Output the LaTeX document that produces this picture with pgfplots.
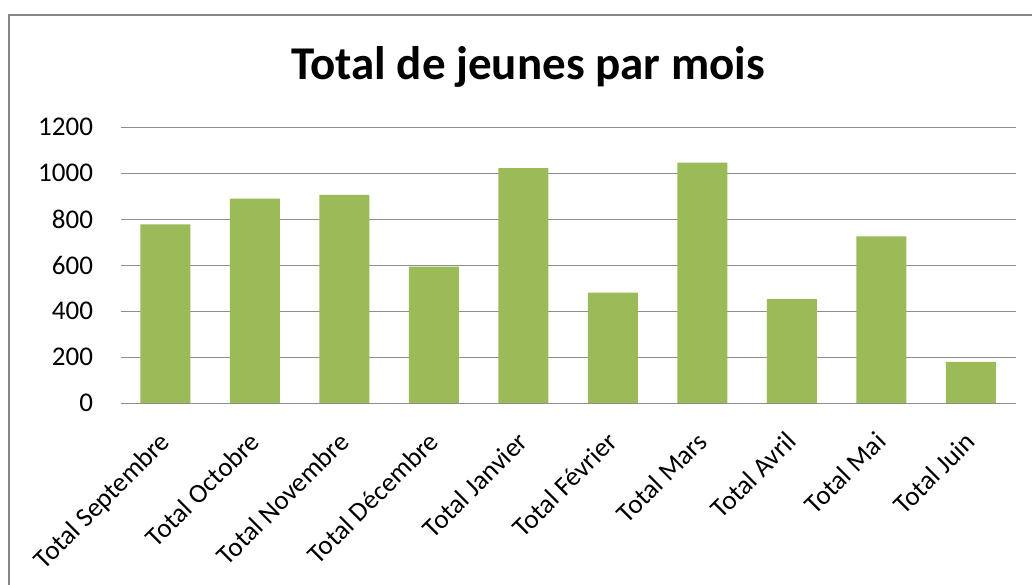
\documentclass[border=0pt]{standalone}
\usepackage{pgfplots}
\pgfplotsset{compat=1.18}
\usepackage{fontspec}
\setmainfont{Carlito}
\definecolor{bargreen}{HTML}{9BBB59}
\definecolor{gridgray}{HTML}{8E8E8E}
\definecolor{framegray}{HTML}{868686}
\begin{document}
\begin{tikzpicture}
\useasboundingbox (0pt,0pt) rectangle (1032pt,584pt);
\fill[white] (0pt,0pt) rectangle (1032pt,584pt);
\draw[framegray, line width=2pt] (9pt,569pt) rectangle (1060pt,-20pt);
\node[anchor=base, font=\fontsize{47}{56}\selectfont\bfseries, inner sep=0pt] at (528pt,504pt) {Total de jeunes par mois};
\begin{axis}[
  at={(120.5pt,180.7pt)}, anchor=south west,
  scale only axis, width=895pt, height=276pt,
  ymin=0, ymax=1200, ytick={0,200,400,600,800,1000,1200},
  xmin=-0.5, xmax=9.5, xtick={0,1,2,3,4,5,6,7,8,9},
  xticklabels={Total Septembre, Total Octobre, Total Novembre, Total Décembre, Total Janvier, Total Février, Total Mars, Total Avril, Total Mai, Total Juin},
  ybar, bar width=50pt,
  ymajorgrids, grid style={gridgray, line width=1.3pt},
  axis line style={draw=none},
  major tick length=0pt,
  tick label style={font=\fontsize{27}{32}\selectfont, text=black},
  yticklabel style={xshift=-24pt},
  xticklabel style={xshift=-7pt, yshift=-22pt, rotate=45, anchor=north east},
  scaled y ticks=false,
  /pgf/number format/assume math mode=true,
  /pgf/number format/1000 sep={},
]
\addplot[fill=bargreen, draw=none] coordinates {
  (0,778) (1,890) (2,906) (3,594) (4,1023) (5,481) (6,1046) (7,453) (8,726) (9,180)
};
\draw[gridgray, line width=1.3pt] (axis cs:-0.5,0) -- (axis cs:9.5,0);
\end{axis}
\end{tikzpicture}
\end{document}
